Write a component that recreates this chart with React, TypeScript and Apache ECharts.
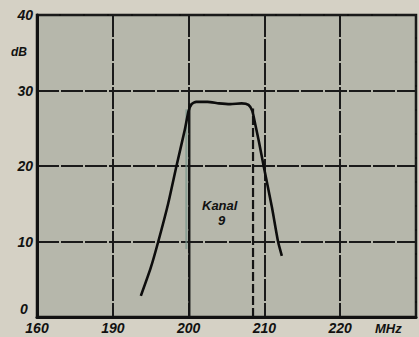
import React, { useEffect, useRef } from "react";
import * as echarts from "echarts";

// x axis: the first interval is broken (160 → 190), so the axis runs 180..230 and 180 is labelled "160"
const xTickValues = [180, 190, 200, 210, 220, 230];
const xTickLabels = ["160", "190", "200", "210", "220", ""];
const yTickValues = [10, 20, 30, 40];

// Passband curve (MHz, dB)
const curveMHz = [193.7, 195, 196, 197.3, 198.4, 199.5, 200.0, 200.4, 201, 202.5, 204, 205.5, 207, 207.9, 208.4, 208.8, 209.3, 209.9, 211.0, 211.8, 212.3];
const curveDB = [2.8, 6.5, 10, 15, 20, 24.8, 27.3, 28.2, 28.5, 28.5, 28.3, 28.2, 28.3, 28.1, 27.3, 25.5, 23.1, 20, 14.5, 10, 8.1];

// Channel 9 band edges (MHz) and their heights (dB)
const channelLeft = [[200.1, 0], [200.1, 28.3]];
const channelRight = [[208.5, 0], [208.5, 27.6]];
const ghostLine = [[199.7, 9], [199.7, 27.5]];

export default function App() {
  const ref = useRef<HTMLDivElement>(null);
  useEffect(() => {
    if (!ref.current) return;
    const chart = echarts.init(ref.current, null, { renderer: "svg" });
    const labelFont = {
      fontFamily: "Liberation Sans",
      fontStyle: "italic" as const,
      fontWeight: "bold" as const,
      fontSize: 14,
      color: "#111",
    };
    const gridLine = { color: "#1a1a1a", width: 2, type: [22, 2] as any };
    chart.setOption({
      animation: false,
      backgroundColor: "#d5d1c5",
      grid: {
        left: 37,
        right: 3,
        top: 15,
        bottom: 20,
        show: true,
        backgroundColor: "#b6b7ab",
        borderColor: "#111",
        borderWidth: 2.5,
      },
      xAxis: {
        type: "value",
        min: 180,
        max: 230,
        interval: 10,
        axisLine: { show: true, lineStyle: { color: "#111", width: 3 } },
        axisTick: { show: false },
        splitLine: { show: true, lineStyle: gridLine },
        axisLabel: {
          ...labelFont,
          margin: 4,
          formatter: (v: number) => {
            const i = xTickValues.indexOf(v);
            return i >= 0 ? xTickLabels[i] : "";
          },
        },
      },
      yAxis: {
        type: "value",
        min: 0,
        max: 40,
        interval: 10,
        axisLine: { show: true, lineStyle: { color: "#111", width: 3 } },
        axisTick: { show: false },
        splitLine: { show: true, lineStyle: gridLine },
        axisLabel: {
          ...labelFont,
          margin: 4,
          formatter: (v: number) => (yTickValues.includes(v) ? String(v) : ""),
        },
      },
      graphic: [
        { type: "text", left: 20, top: 302, style: { ...labelFont, fill: "#111", text: "0" } },
        { type: "text", left: 11, top: 46, style: { ...labelFont, fill: "#111", text: "dB", fontSize: 12 } },
        { type: "text", left: 375, top: 322, style: { ...labelFont, fill: "#111", text: "MHz", fontSize: 13 } },
        { type: "text", left: 202, top: 199, style: { ...labelFont, fill: "#111", text: "Kanal", fontSize: 13 } },
        { type: "text", left: 218, top: 214, style: { ...labelFont, fill: "#111", text: "9", fontSize: 13 } },
      ],
      series: [
        {
          type: "line",
          data: ghostLine,
          symbol: "none",
          lineStyle: { color: "rgba(120,150,140,0.7)", width: 2 },
          z: 2,
        },
        {
          type: "line",
          data: channelLeft,
          symbol: "none",
          lineStyle: { color: "#141414", width: 2.2 },
          z: 3,
        },
        {
          type: "line",
          data: channelRight,
          symbol: "none",
          lineStyle: { color: "#141414", width: 2.2, type: [9, 3] },
          z: 3,
        },
        {
          type: "line",
          data: curveMHz.map((x, i) => [x, curveDB[i]]),
          symbol: "none",
          smooth: 0.2,
          lineStyle: { color: "#0d0d0d", width: 2.6 },
          z: 4,
        },
      ],
    });
    return () => chart.dispose();
  }, []);
  return (
    <div
      ref={ref}
      style={{ position: "fixed", left: 0, top: 0, width: 419, height: 337 }}
    />
  );
}
